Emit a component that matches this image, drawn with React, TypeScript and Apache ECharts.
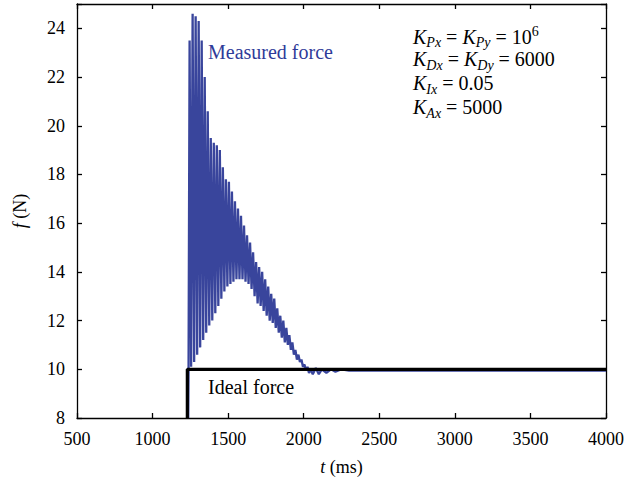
import React, { useEffect, useRef } from "react";
import * as echarts from "echarts";

// Measured force: oscillation peaks and troughs (ms, N)
const peakTimes = [1245, 1265, 1285, 1305, 1325, 1345, 1365, 1385, 1405, 1425, 1445, 1465, 1485, 1505, 1525, 1545, 1565, 1585, 1605, 1625, 1645, 1665, 1685, 1705, 1725, 1745, 1765, 1785, 1805, 1825, 1845, 1865, 1885, 1905, 1925, 1945, 1965, 1985, 2005, 2025, 2045];
const peakValues = [23.5, 24.6, 24.5, 24.3, 23.5, 22.0, 20.6, 19.5, 19.3, 19.2, 19.0, 18.3, 17.8, 17.7, 17.3, 16.9, 16.6, 16.3, 15.9, 15.5, 15.2, 14.8, 14.4, 14.2, 14.0, 13.7, 13.4, 13.1, 12.9, 12.5, 12.2, 12.0, 11.7, 11.4, 11.1, 10.8, 10.6, 10.4, 10.2, 10.1, 10.0];
const troughTimes = [1255, 1275, 1295, 1315, 1335, 1355, 1375, 1395, 1415, 1435, 1455, 1475, 1495, 1515, 1535, 1555, 1575, 1595, 1615, 1635, 1655, 1675, 1695, 1715, 1735, 1755, 1775, 1795, 1815, 1835, 1855, 1875, 1895, 1915, 1935, 1955, 1975, 1995, 2015, 2035];
const troughValues = [10.1, 10.3, 10.6, 10.9, 11.2, 11.5, 11.8, 12.0, 12.3, 12.6, 12.9, 13.2, 13.4, 13.5, 13.6, 13.7, 13.7, 13.7, 13.6, 13.5, 13.3, 13.0, 12.7, 12.6, 12.4, 12.2, 12.0, 11.9, 11.7, 11.5, 11.3, 11.1, 11.0, 10.8, 10.6, 10.4, 10.3, 10.1, 9.95, 9.85];
const startTimes = [1236, 1238];
const startValues = [8.0, 9.9];
const tailTimes = [2060, 2080, 2100, 2120, 2150, 2180, 2210, 2250, 2300, 4000];
const tailValues = [9.8, 10.05, 9.8, 10.0, 9.85, 10.0, 9.9, 10.0, 9.95, 9.95];

// Ideal force step
const idealTimes = [1230, 1230, 4000];
const idealValues = [8, 10, 10];

const xTicks = { min: 500, max: 4000, interval: 500 };
const yTicks = { min: 8, max: 25, interval: 2 };

const FONT = "'Liberation Serif', 'DejaVu Serif', serif";

export default function App() {
  const ref = useRef<HTMLDivElement>(null);
  useEffect(() => {
    if (!ref.current) return;
    const chart = echarts.init(ref.current, undefined, { renderer: "svg" });

    const measured: number[][] = [];
    startTimes.forEach((t, i) => measured.push([t, startValues[i]]));
    peakTimes.forEach((t, i) => {
      measured.push([t, peakValues[i]]);
      if (i < troughTimes.length) measured.push([troughTimes[i], troughValues[i]]);
    });
    tailTimes.forEach((t, i) => measured.push([t, tailValues[i]]));
    const ideal = idealTimes.map((t, i) => [t, idealValues[i]]);

    const axisLine = { show: true, lineStyle: { color: "#000", width: 1.3 } };
    const tick = { show: true, inside: true, length: 5, lineStyle: { color: "#000", width: 1.3 } };
    const label = { color: "#000", fontSize: 18, fontFamily: FONT };

    const kRich = {
      k: { fontStyle: "italic", fontSize: 20, fontFamily: FONT, color: "#000" },
      s: { fontStyle: "italic", fontSize: 14, fontFamily: FONT, color: "#000", padding: [12, 0, 0, 0] },
      n: { fontSize: 20, fontFamily: FONT, color: "#000" },
      sup: { fontSize: 14, fontFamily: FONT, color: "#000", padding: [0, 0, 11, 0] },
    };

    const kLines = [
      "{k|K}{s|Px}{n| = }{k|K}{s|Py}{n| = 10}{sup|6}",
      "{k|K}{s|Dx}{n| = }{k|K}{s|Dy}{n| = 6000}",
      "{k|K}{s|Ix}{n| = 0.05}",
      "{k|K}{s|Ax}{n| = 5000}",
    ];
    const kY = [42, 67, 91, 115];

    chart.setOption({
      animation: false,
      backgroundColor: "#fff",
      grid: { left: 77, right: 33, top: 4, bottom: 69 },
      xAxis: [
        {
          type: "value", ...xTicks, position: "bottom",
          axisLine, axisTick: tick, splitLine: { show: false },
          axisLabel: { ...label, margin: 12, formatter: (v: number) => String(v) },
          name: "{i|t} (ms)", nameLocation: "middle", nameGap: 40,
          nameTextStyle: {
            fontSize: 18, fontFamily: FONT, color: "#000",
            rich: { i: { fontStyle: "italic", fontSize: 18, fontFamily: FONT, color: "#000" } },
          },
        },
        {
          type: "value", ...xTicks, position: "top",
          axisLine, axisTick: tick, splitLine: { show: false }, axisLabel: { show: false },
        },
      ],
      yAxis: [
        {
          type: "value", ...yTicks, position: "left",
          axisLine, axisTick: tick, splitLine: { show: false },
          axisLabel: { ...label, margin: 12, formatter: (v: number) => (v === 25 ? "" : String(v)) },
          name: "{i|f} (N)", nameLocation: "middle", nameGap: 48,
          nameTextStyle: {
            fontSize: 18, fontFamily: FONT, color: "#000",
            rich: { i: { fontStyle: "italic", fontSize: 18, fontFamily: FONT, color: "#000" } },
          },
        },
        {
          type: "value", ...yTicks, position: "right",
          axisLine, axisTick: tick, splitLine: { show: false }, axisLabel: { show: false },
        },
      ],
      series: [
        {
          type: "line", name: "Measured force", data: measured, showSymbol: false,
          lineStyle: { color: "#2a3794", width: 2.3, opacity: 0.93 }, clip: true, z: 2,
        },
        {
          type: "line", name: "Ideal force", data: ideal, showSymbol: false,
          lineStyle: { color: "#000", width: 3.2 }, clip: true, z: 3,
        },
      ],
      graphic: [
        {
          type: "text", left: 208, top: 42,
          style: { text: "Measured force", fontSize: 20, fontFamily: FONT, fill: "#2f3b99" },
        },
        {
          type: "text", left: 208, top: 377,
          style: { text: "Ideal force", fontSize: 20, fontFamily: FONT, fill: "#000" },
        },
        ...kLines.map((t, i) => ({
          type: "text", left: 413, top: kY[i] - 18,
          style: { text: t, rich: kRich, fontFamily: FONT, fontSize: 20, fill: "#000" },
        })),
      ],
    });
    return () => chart.dispose();
  }, []);
  return <div ref={ref} style={{ position: "fixed", left: 0, top: 0, width: 639, height: 487 }} />;
}
